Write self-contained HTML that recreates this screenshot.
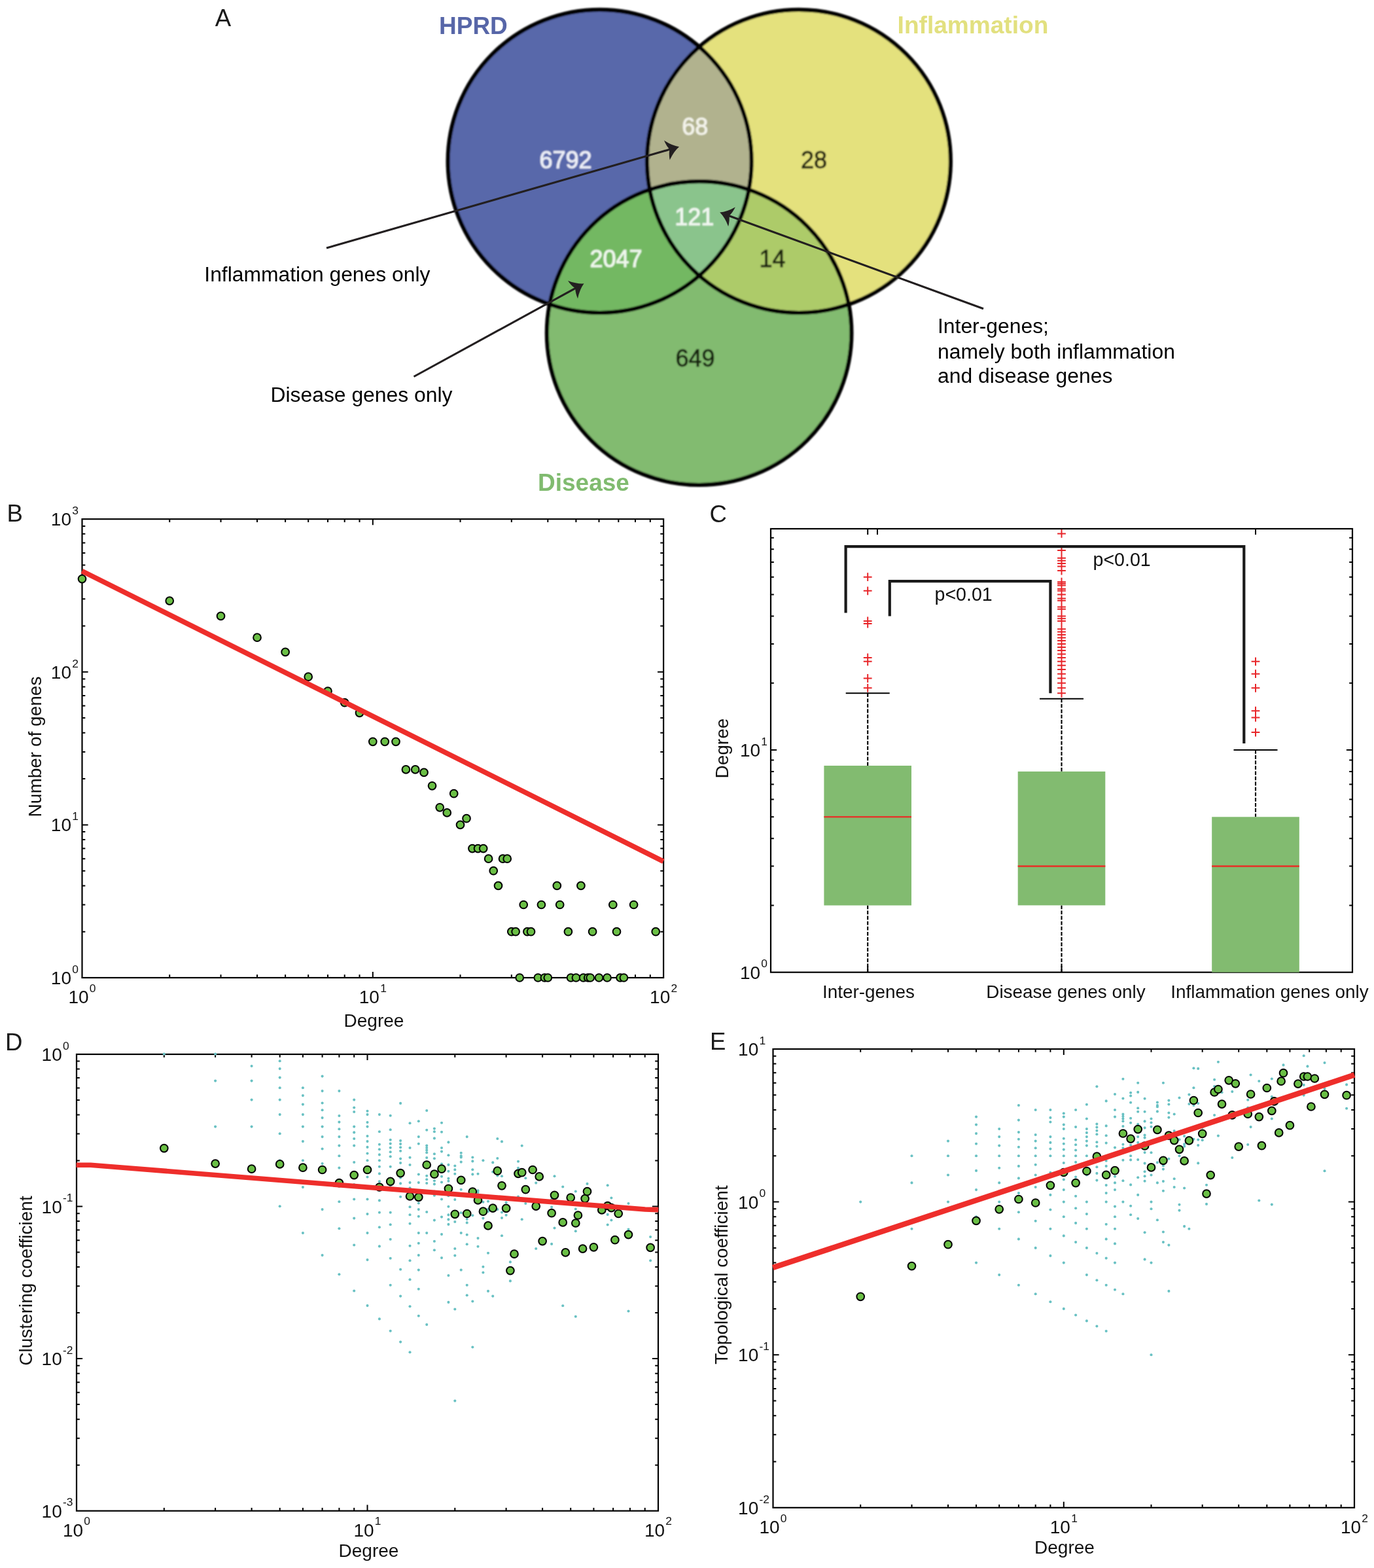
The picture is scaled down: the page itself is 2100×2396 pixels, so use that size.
<!DOCTYPE html>
<html lang="en"><head><meta charset="utf-8"><title>Inflammation and disease genes: overlap and network properties</title>
<style>html,body{margin:0;padding:0;background:#fff}body{width:2100px;height:2396px;overflow:hidden}svg{display:block}svg text{font-family:'Liberation Sans', Arial, Helvetica, sans-serif}</style>
</head><body>
<svg width="2100" height="2396" viewBox="0 0 2100 2396" role="img" aria-label="Five-panel figure: Venn diagram of HPRD, inflammation and disease genes; degree distribution; degree box plots; clustering and topological coefficients versus degree">
<rect width="2100" height="2396" fill="#fff"/>
<defs>
<clipPath id="cB"><ellipse cx="916.6" cy="246.4" rx="232" ry="231.6"/></clipPath>
<clipPath id="cY"><ellipse cx="1220.9" cy="246.4" rx="232" ry="231.6"/></clipPath>
<clipPath id="cG"><ellipse cx="1068.6" cy="509.1" rx="232.8" ry="231.9"/></clipPath>
<filter id="soft" x="-2%" y="-2%" width="104%" height="104%"><feGaussianBlur stdDeviation="1"/></filter>
</defs>
<g id="venn">
<g filter="url(#soft)">
<ellipse cx="916.6" cy="246.4" rx="232" ry="231.6" fill="#5868aa"/>
<ellipse cx="1220.9" cy="246.4" rx="232" ry="231.6" fill="#e4e17d"/>
<ellipse cx="1068.6" cy="509.1" rx="232.8" ry="231.9" fill="#82bb70"/>
<g clip-path="url(#cB)"><ellipse cx="1220.9" cy="246.4" rx="232" ry="231.6" fill="#b1b28e"/></g>
<g clip-path="url(#cB)"><ellipse cx="1068.6" cy="509.1" rx="232.8" ry="231.9" fill="#73b862"/></g>
<g clip-path="url(#cY)"><ellipse cx="1068.6" cy="509.1" rx="232.8" ry="231.9" fill="#adcb69"/></g>
<g clip-path="url(#cB)"><g clip-path="url(#cY)"><ellipse cx="1068.6" cy="509.1" rx="232.8" ry="231.9" fill="#8ac48c"/></g></g>
<ellipse cx="916.6" cy="246.4" rx="232" ry="231.6" fill="none" stroke="#050505" stroke-width="6.2"/>
<ellipse cx="1220.9" cy="246.4" rx="232" ry="231.6" fill="none" stroke="#050505" stroke-width="6.2"/>
<ellipse cx="1068.6" cy="509.1" rx="232.8" ry="231.9" fill="none" stroke="#050505" stroke-width="6.2"/>
<text x="864.5" y="256.5" font-size="36" text-anchor="middle" fill="#eef0f8" stroke="#eef0f8" stroke-width="0.9">6792</text>
<text x="1062.3" y="206.2" font-size="36" text-anchor="middle" fill="#f3f3ea" stroke="#f3f3ea" stroke-width="0.9">68</text>
<text x="1244" y="256.5" font-size="36" text-anchor="middle" fill="#23230f" stroke="#23230f" stroke-width="0.9">28</text>
<text x="1061.3" y="344" font-size="36" text-anchor="middle" fill="#f2f8f2" stroke="#f2f8f2" stroke-width="0.9">121</text>
<text x="941.5" y="408" font-size="36" text-anchor="middle" fill="#f0f8ee" stroke="#f0f8ee" stroke-width="0.9">2047</text>
<text x="1180.5" y="408" font-size="36" text-anchor="middle" fill="#1c2410" stroke="#1c2410" stroke-width="0.9">14</text>
<text x="1062.5" y="559.5" font-size="36" text-anchor="middle" fill="#15240f" stroke="#15240f" stroke-width="0.9">649</text>
</g>
<text x="671" y="51.6" font-size="37" font-weight="bold" fill="#5766a8">HPRD</text>
<text x="1371.6" y="51.3" font-size="37.1" font-weight="bold" fill="#e2e07f">Inflammation</text>
<text x="822" y="749.5" font-size="37" font-weight="bold" fill="#80bb6f">Disease</text>
<line x1="499" y1="379" x2="1024.4" y2="228.1" stroke="#231f20" stroke-width="3.1"/>
<path d="M1038 224.2Q1029.6 231.5 1023.7 244.5Q1022 235.6 1023.4 228.4Q1018.4 223 1015 214.6Q1027 222.5 1038 224.2Z" fill="#231f20"/>
<line x1="632.5" y1="575.5" x2="880" y2="440.1" stroke="#231f20" stroke-width="3.1"/>
<path d="M892.5 433.3Q885.9 442.2 883 456.3Q879.4 448 879.2 440.6Q873.1 436.5 868 428.9Q881.4 434 892.5 433.3Z" fill="#231f20"/>
<line x1="1503" y1="471.7" x2="1113.5" y2="329.5" stroke="#231f20" stroke-width="3.1"/>
<path d="M1100.2 324.6Q1111.3 323.7 1123.8 316.6Q1119.9 324.8 1114.5 329.8Q1115.4 337.1 1113.1 345.9Q1108.1 332.5 1100.2 324.6Z" fill="#231f20"/>
<text x="312.3" y="430.3" font-size="31.85" fill="#000">Inflammation genes only</text>
<text x="413.5" y="613.8" font-size="31.85" fill="#000">Disease genes only</text>
<text x="1433" y="508.6" font-size="31.85" fill="#000">Inter-genes;</text>
<text x="1433" y="547.5" font-size="31.85" fill="#000">namely both inflammation</text>
<text x="1433" y="585" font-size="31.85" fill="#000">and disease genes</text>
</g>
<text x="328.8" y="39.8" font-size="36.6" fill="#1a1a1a">A</text>
<g id="panelB">
<rect x="125.5" y="793.2" width="888.6" height="700.8" fill="none" stroke="#000" stroke-width="2.2"/>
<path d="M259.2 1494v-4.8M259.2 793.2v4.8M337.5 1494v-4.8M337.5 793.2v4.8M393 1494v-4.8M393 793.2v4.8M436.1 1494v-4.8M436.1 793.2v4.8M471.2 1494v-4.8M471.2 793.2v4.8M501 1494v-4.8M501 793.2v4.8M526.7 1494v-4.8M526.7 793.2v4.8M549.5 1494v-4.8M549.5 793.2v4.8M569.8 1494v-9.1M569.8 793.2v9.1M703.5 1494v-4.8M703.5 793.2v4.8M781.8 1494v-4.8M781.8 793.2v4.8M837.3 1494v-4.8M837.3 793.2v4.8M880.4 1494v-4.8M880.4 793.2v4.8M915.5 1494v-4.8M915.5 793.2v4.8M945.3 1494v-4.8M945.3 793.2v4.8M971 1494v-4.8M971 793.2v4.8M993.8 1494v-4.8M993.8 793.2v4.8" stroke="#000" stroke-width="2" fill="none"/>
<path d="M125.5 1423.7h4.8M1014.1 1423.7h-4.8M125.5 1382.5h4.8M1014.1 1382.5h-4.8M125.5 1353.4h4.8M1014.1 1353.4h-4.8M125.5 1330.7h4.8M1014.1 1330.7h-4.8M125.5 1312.2h4.8M1014.1 1312.2h-4.8M125.5 1296.6h4.8M1014.1 1296.6h-4.8M125.5 1283h4.8M1014.1 1283h-4.8M125.5 1271.1h4.8M1014.1 1271.1h-4.8M125.5 1260.4h9.1M1014.1 1260.4h-9.1M125.5 1190.1h4.8M1014.1 1190.1h-4.8M125.5 1148.9h4.8M1014.1 1148.9h-4.8M125.5 1119.8h4.8M1014.1 1119.8h-4.8M125.5 1097.1h4.8M1014.1 1097.1h-4.8M125.5 1078.6h4.8M1014.1 1078.6h-4.8M125.5 1063h4.8M1014.1 1063h-4.8M125.5 1049.4h4.8M1014.1 1049.4h-4.8M125.5 1037.5h4.8M1014.1 1037.5h-4.8M125.5 1026.8h9.1M1014.1 1026.8h-9.1M125.5 956.5h4.8M1014.1 956.5h-4.8M125.5 915.3h4.8M1014.1 915.3h-4.8M125.5 886.2h4.8M1014.1 886.2h-4.8M125.5 863.5h4.8M1014.1 863.5h-4.8M125.5 845h4.8M1014.1 845h-4.8M125.5 829.4h4.8M1014.1 829.4h-4.8M125.5 815.8h4.8M1014.1 815.8h-4.8M125.5 803.9h4.8M1014.1 803.9h-4.8" stroke="#000" stroke-width="2" fill="none"/>
<g fill="#6abf45" stroke="#000" stroke-width="2.0">
<circle cx="125.5" cy="884.6" r="5.85"/><circle cx="259.2" cy="918.1" r="5.85"/><circle cx="337.5" cy="941.4" r="5.85"/><circle cx="393" cy="974.2" r="5.85"/><circle cx="436.1" cy="996.4" r="5.85"/><circle cx="471.2" cy="1034.2" r="5.85"/><circle cx="501" cy="1056" r="5.85"/><circle cx="526.7" cy="1073.7" r="5.85"/><circle cx="549.5" cy="1089.3" r="5.85"/><circle cx="569.8" cy="1133.3" r="5.85"/><circle cx="588.2" cy="1133.3" r="5.85"/><circle cx="605" cy="1133.3" r="5.85"/><circle cx="620.4" cy="1175.9" r="5.85"/><circle cx="634.7" cy="1175.9" r="5.85"/><circle cx="648" cy="1180.4" r="5.85"/><circle cx="660.5" cy="1200.8" r="5.85"/><circle cx="672.2" cy="1233.8" r="5.85"/><circle cx="683.2" cy="1241.9" r="5.85"/><circle cx="693.7" cy="1212.7" r="5.85"/><circle cx="703.5" cy="1260.4" r="5.85"/><circle cx="713" cy="1250.7" r="5.85"/><circle cx="721.9" cy="1296.6" r="5.85"/><circle cx="730.5" cy="1296.6" r="5.85"/><circle cx="738.7" cy="1296.6" r="5.85"/><circle cx="746.6" cy="1312.2" r="5.85"/><circle cx="754.2" cy="1330.7" r="5.85"/><circle cx="761.5" cy="1353.4" r="5.85"/><circle cx="768.5" cy="1312.2" r="5.85"/><circle cx="775.2" cy="1312.2" r="5.85"/><circle cx="781.8" cy="1423.7" r="5.85"/><circle cx="788.1" cy="1423.7" r="5.85"/><circle cx="794.2" cy="1494" r="5.85"/><circle cx="800.2" cy="1382.5" r="5.85"/><circle cx="805.9" cy="1423.7" r="5.85"/><circle cx="811.5" cy="1423.7" r="5.85"/><circle cx="822.3" cy="1494" r="5.85"/><circle cx="827.4" cy="1382.5" r="5.85"/><circle cx="832.4" cy="1494" r="5.85"/><circle cx="837.3" cy="1494" r="5.85"/><circle cx="851.3" cy="1353.4" r="5.85"/><circle cx="855.7" cy="1382.5" r="5.85"/><circle cx="868.4" cy="1423.7" r="5.85"/><circle cx="872.5" cy="1494" r="5.85"/><circle cx="880.4" cy="1494" r="5.85"/><circle cx="887.9" cy="1353.4" r="5.85"/><circle cx="891.6" cy="1494" r="5.85"/><circle cx="898.7" cy="1494" r="5.85"/><circle cx="902.2" cy="1494" r="5.85"/><circle cx="905.6" cy="1423.7" r="5.85"/><circle cx="915.5" cy="1494" r="5.85"/><circle cx="928" cy="1494" r="5.85"/><circle cx="936.8" cy="1382.5" r="5.85"/><circle cx="942.5" cy="1423.7" r="5.85"/><circle cx="948" cy="1494" r="5.85"/><circle cx="953.4" cy="1494" r="5.85"/><circle cx="968.6" cy="1382.5" r="5.85"/><circle cx="1002.2" cy="1423.7" r="5.85"/>
</g>
<line x1="125.3" y1="872.6" x2="1013.8" y2="1316.2" stroke="#ee2e2b" stroke-width="7.7"/>
<text x="119.9" y="1504" font-size="28.0" text-anchor="end" fill="#111">10<tspan dy="-17.3" dx="1.2" font-size="17.4">0</tspan></text>
<text x="119.9" y="1270.4" font-size="28.0" text-anchor="end" fill="#111">10<tspan dy="-17.3" dx="1.2" font-size="17.4">1</tspan></text>
<text x="119.9" y="1036.8" font-size="28.0" text-anchor="end" fill="#111">10<tspan dy="-17.3" dx="1.2" font-size="17.4">2</tspan></text>
<text x="119.9" y="803.2" font-size="28.0" text-anchor="end" fill="#111">10<tspan dy="-17.3" dx="1.2" font-size="17.4">3</tspan></text>
<text x="125.5" y="1533" font-size="28.0" text-anchor="middle" fill="#111">10<tspan dy="-17.3" dx="1.2" font-size="17.4">0</tspan></text>
<text x="569.8" y="1533" font-size="28.0" text-anchor="middle" fill="#111">10<tspan dy="-17.3" dx="1.2" font-size="17.4">1</tspan></text>
<text x="1014.1" y="1533" font-size="28.0" text-anchor="middle" fill="#111">10<tspan dy="-17.3" dx="1.2" font-size="17.4">2</tspan></text>
<text x="571.5" y="1568.6" font-size="28.0" text-anchor="middle" fill="#111">Degree</text>
<text transform="translate(62.6 1141) rotate(-90)" font-size="28.0" text-anchor="middle" fill="#111">Number of genes</text>
<text x="10.5" y="797.4" font-size="36.6" fill="#1a1a1a">B</text>
</g>
<g id="panelC">
<rect x="1178" y="808" width="889" height="677.7" fill="none" stroke="#000" stroke-width="2.2"/>
<path d="M1178 1146h9.1M2067 1146h-9.1M1178 1383.4h4.8M2067 1383.4h-4.8M1178 1043.7h4.8M2067 1043.7h-4.8M1178 1323.6h4.8M2067 1323.6h-4.8M1178 983.9h4.8M2067 983.9h-4.8M1178 1281.2h4.8M2067 1281.2h-4.8M1178 941.5h4.8M2067 941.5h-4.8M1178 1248.3h4.8M2067 1248.3h-4.8M1178 908.6h4.8M2067 908.6h-4.8M1178 1221.4h4.8M2067 1221.4h-4.8M1178 881.7h4.8M2067 881.7h-4.8M1178 1198.6h4.8M2067 1198.6h-4.8M1178 858.9h4.8M2067 858.9h-4.8M1178 1178.9h4.8M2067 1178.9h-4.8M1178 839.2h4.8M2067 839.2h-4.8M1178 1161.5h4.8M2067 1161.5h-4.8M1178 821.8h4.8M2067 821.8h-4.8M1326.2 1485.7v-9.1M1326.2 808v9.1M1622.5 1485.7v-9.1M1919 808v9.1M1341 808v9.1" stroke="#000" stroke-width="2" fill="none"/>
<line x1="1326.2" y1="1059.3" x2="1326.2" y2="1170" stroke="#000" stroke-width="2.1" stroke-dasharray="5.8 2.3"/>
<line x1="1326.2" y1="1383.4" x2="1326.2" y2="1485.7" stroke="#000" stroke-width="2.1" stroke-dasharray="5.8 2.3"/>
<line x1="1292.7" y1="1059.3" x2="1359.7" y2="1059.3" stroke="#000" stroke-width="2"/>
<rect x="1259.4" y="1170" width="133.6" height="213.5" fill="#82bb70"/>
<line x1="1259.4" y1="1248.3" x2="1393" y2="1248.3" stroke="#e03a2c" stroke-width="2.6"/>
<line x1="1622.5" y1="1067.7" x2="1622.5" y2="1178.9" stroke="#000" stroke-width="2.1" stroke-dasharray="5.8 2.3"/>
<line x1="1622.5" y1="1383.4" x2="1622.5" y2="1485.7" stroke="#000" stroke-width="2.1" stroke-dasharray="5.8 2.3"/>
<line x1="1589" y1="1067.7" x2="1656" y2="1067.7" stroke="#000" stroke-width="2"/>
<rect x="1555.7" y="1178.9" width="133.6" height="204.5" fill="#82bb70"/>
<line x1="1555.7" y1="1323.6" x2="1689.3" y2="1323.6" stroke="#e03a2c" stroke-width="2.6"/>
<line x1="1919" y1="1146" x2="1919" y2="1248.3" stroke="#000" stroke-width="2.1" stroke-dasharray="5.8 2.3"/>
<line x1="1885.5" y1="1146" x2="1952.5" y2="1146" stroke="#000" stroke-width="2"/>
<rect x="1852.2" y="1248.3" width="133.6" height="237.4" fill="#82bb70"/>
<line x1="1852.2" y1="1323.6" x2="1985.8" y2="1323.6" stroke="#e03a2c" stroke-width="2.6"/>
<path d="M1319.8 1051.3h12.8M1326.2 1044.9v12.8M1319.8 1036.5h12.8M1326.2 1030.1v12.8M1319.8 1010.8h12.8M1326.2 1004.4v12.8M1319.8 1005h12.8M1326.2 998.6v12.8M1319.8 953h12.8M1326.2 946.6v12.8M1319.8 949h12.8M1326.2 942.6v12.8M1319.8 902.8h12.8M1326.2 896.4v12.8M1319.8 881.7h12.8M1326.2 875.3v12.8M1616.1 1059.3h12.8M1622.5 1052.9v12.8M1616.1 1051.3h12.8M1622.5 1044.9v12.8M1616.1 1043.7h12.8M1622.5 1037.3v12.8M1616.1 1036.5h12.8M1622.5 1030.1v12.8M1616.1 1029.7h12.8M1622.5 1023.3v12.8M1616.1 1023.1h12.8M1622.5 1016.7v12.8M1616.1 1016.8h12.8M1622.5 1010.4v12.8M1616.1 1010.8h12.8M1622.5 1004.4v12.8M1616.1 1005h12.8M1622.5 998.6v12.8M1616.1 999.5h12.8M1622.5 993.1v12.8M1616.1 994.1h12.8M1622.5 987.7v12.8M1616.1 988.9h12.8M1622.5 982.5v12.8M1616.1 983.9h12.8M1622.5 977.5v12.8M1616.1 979.1h12.8M1622.5 972.7v12.8M1616.1 974.4h12.8M1622.5 968v12.8M1616.1 969.9h12.8M1622.5 963.5v12.8M1616.1 965.5h12.8M1622.5 959.1v12.8M1616.1 961.2h12.8M1622.5 954.8v12.8M1616.1 949h12.8M1622.5 942.6v12.8M1616.1 945.2h12.8M1622.5 938.8v12.8M1616.1 941.5h12.8M1622.5 935.1v12.8M1616.1 930.8h12.8M1622.5 924.4v12.8M1616.1 927.4h12.8M1622.5 921v12.8M1616.1 917.7h12.8M1622.5 911.3v12.8M1616.1 914.6h12.8M1622.5 908.2v12.8M1616.1 908.6h12.8M1622.5 902.2v12.8M1616.1 902.8h12.8M1622.5 896.4v12.8M1616.1 900h12.8M1622.5 893.6v12.8M1616.1 894.5h12.8M1622.5 888.1v12.8M1616.1 891.8h12.8M1622.5 885.4v12.8M1616.1 889.2h12.8M1622.5 882.8v12.8M1616.1 872.1h12.8M1622.5 865.7v12.8M1616.1 865.4h12.8M1622.5 859v12.8M1616.1 861h12.8M1622.5 854.6v12.8M1616.1 856.8h12.8M1622.5 850.4v12.8M1616.1 852.7h12.8M1622.5 846.3v12.8M1616.1 841.1h12.8M1622.5 834.7v12.8M1616.1 815.4h12.8M1622.5 809v12.8M1912.6 1119.1h12.8M1919 1112.7v12.8M1912.6 1096.4h12.8M1919 1090v12.8M1912.6 1086.2h12.8M1919 1079.8v12.8M1912.6 1051.3h12.8M1919 1044.9v12.8M1912.6 1029.7h12.8M1919 1023.3v12.8M1912.6 1010.8h12.8M1919 1004.4v12.8" stroke="#e8262a" stroke-width="2" fill="none"/>
<path d="M1292.6 936.5V835.2H1901.3V1136" fill="none" stroke="#1a1a1a" stroke-width="4.2"/>
<path d="M1359.8 941.5V888.2H1605.4V1059.3" fill="none" stroke="#1a1a1a" stroke-width="4.2"/>
<text x="1428.5" y="917.8" font-size="28.6" text-anchor="start" fill="#111">p&lt;0.01</text>
<text x="1670.5" y="864.5" font-size="28.6" text-anchor="start" fill="#111">p&lt;0.01</text>
<text x="1173" y="1156" font-size="28.0" text-anchor="end" fill="#111">10<tspan dy="-17.3" dx="1.2" font-size="17.4">1</tspan></text>
<text x="1173" y="1495.7" font-size="28.0" text-anchor="end" fill="#111">10<tspan dy="-17.3" dx="1.2" font-size="17.4">0</tspan></text>
<text x="1327.5" y="1525.4" font-size="27.9" text-anchor="middle" fill="#111">Inter-genes</text>
<text x="1629" y="1525.4" font-size="27.9" text-anchor="middle" fill="#111">Disease genes only</text>
<text x="1940.5" y="1525.4" font-size="27.9" text-anchor="middle" fill="#111">Inflammation genes only</text>
<text transform="translate(1112.8 1143.6) rotate(-90)" font-size="28.0" text-anchor="middle" fill="#111">Degree</text>
<text x="1084.5" y="797.6" font-size="36.6" fill="#1a1a1a">C</text>
</g>
<g id="panelD">
<rect x="117" y="1611" width="889" height="697.7" fill="none" stroke="#000" stroke-width="2.2"/>
<path d="M250.8 2308.7v-4.8M250.8 1611v4.8M329.1 2308.7v-4.8M329.1 1611v4.8M384.6 2308.7v-4.8M384.6 1611v4.8M427.7 2308.7v-4.8M427.7 1611v4.8M462.9 2308.7v-4.8M462.9 1611v4.8M492.6 2308.7v-4.8M492.6 1611v4.8M518.4 2308.7v-4.8M518.4 1611v4.8M541.2 2308.7v-4.8M541.2 1611v4.8M561.5 2308.7v-9.1M561.5 1611v9.1M695.3 2308.7v-4.8M695.3 1611v4.8M773.6 2308.7v-4.8M773.6 1611v4.8M829.1 2308.7v-4.8M829.1 1611v4.8M872.2 2308.7v-4.8M872.2 1611v4.8M907.4 2308.7v-4.8M907.4 1611v4.8M937.1 2308.7v-4.8M937.1 1611v4.8M962.9 2308.7v-4.8M962.9 1611v4.8M985.7 2308.7v-4.8M985.7 1611v4.8" stroke="#000" stroke-width="2" fill="none"/>
<path d="M117 2238.7h4.8M1006 2238.7h-4.8M117 2197.7h4.8M1006 2197.7h-4.8M117 2168.7h4.8M1006 2168.7h-4.8M117 2146.1h4.8M1006 2146.1h-4.8M117 2127.7h4.8M1006 2127.7h-4.8M117 2112.2h4.8M1006 2112.2h-4.8M117 2098.7h4.8M1006 2098.7h-4.8M117 2086.8h4.8M1006 2086.8h-4.8M117 2076.1h9.1M1006 2076.1h-9.1M117 2006.1h4.8M1006 2006.1h-4.8M117 1965.2h4.8M1006 1965.2h-4.8M117 1936.1h4.8M1006 1936.1h-4.8M117 1913.6h4.8M1006 1913.6h-4.8M117 1895.2h4.8M1006 1895.2h-4.8M117 1879.6h4.8M1006 1879.6h-4.8M117 1866.1h4.8M1006 1866.1h-4.8M117 1854.2h4.8M1006 1854.2h-4.8M117 1843.6h9.1M1006 1843.6h-9.1M117 1773.6h4.8M1006 1773.6h-4.8M117 1732.6h4.8M1006 1732.6h-4.8M117 1703.5h4.8M1006 1703.5h-4.8M117 1681h4.8M1006 1681h-4.8M117 1662.6h4.8M1006 1662.6h-4.8M117 1647h4.8M1006 1647h-4.8M117 1633.5h4.8M1006 1633.5h-4.8M117 1621.6h4.8M1006 1621.6h-4.8" stroke="#000" stroke-width="2" fill="none"/>
<g fill="#69c1c3">
<circle cx="250.8" cy="1610.6" r="2.05"/><circle cx="329.1" cy="1721.6" r="2.05"/><circle cx="329.1" cy="1651.6" r="2.05"/><circle cx="329.1" cy="1610.6" r="2.05"/><circle cx="384.6" cy="1721.6" r="2.05"/><circle cx="384.6" cy="1680.6" r="2.05"/><circle cx="384.6" cy="1651.6" r="2.05"/><circle cx="384.6" cy="1629" r="2.05"/><circle cx="427.7" cy="1843.2" r="2.05"/><circle cx="427.7" cy="1773.2" r="2.05"/><circle cx="427.7" cy="1732.2" r="2.05"/><circle cx="427.7" cy="1703.1" r="2.05"/><circle cx="427.7" cy="1680.6" r="2.05"/><circle cx="427.7" cy="1662.2" r="2.05"/><circle cx="427.7" cy="1646.6" r="2.05"/><circle cx="427.7" cy="1633.1" r="2.05"/><circle cx="427.7" cy="1621.2" r="2.05"/><circle cx="462.9" cy="1884.1" r="2.05"/><circle cx="462.9" cy="1814.1" r="2.05"/><circle cx="462.9" cy="1773.2" r="2.05"/><circle cx="462.9" cy="1744.1" r="2.05"/><circle cx="462.9" cy="1721.6" r="2.05"/><circle cx="462.9" cy="1703.1" r="2.05"/><circle cx="462.9" cy="1687.6" r="2.05"/><circle cx="462.9" cy="1674.1" r="2.05"/><circle cx="462.9" cy="1662.2" r="2.05"/><circle cx="492.6" cy="1918.1" r="2.05"/><circle cx="492.6" cy="1848.1" r="2.05"/><circle cx="492.6" cy="1807.1" r="2.05"/><circle cx="492.6" cy="1778.1" r="2.05"/><circle cx="492.6" cy="1755.5" r="2.05"/><circle cx="492.6" cy="1737.1" r="2.05"/><circle cx="492.6" cy="1721.6" r="2.05"/><circle cx="492.6" cy="1708.1" r="2.05"/><circle cx="492.6" cy="1696.2" r="2.05"/><circle cx="492.6" cy="1685.5" r="2.05"/><circle cx="492.6" cy="1667.1" r="2.05"/><circle cx="492.6" cy="1644.6" r="2.05"/><circle cx="518.4" cy="1947.2" r="2.05"/><circle cx="518.4" cy="1877.2" r="2.05"/><circle cx="518.4" cy="1836.2" r="2.05"/><circle cx="518.4" cy="1807.1" r="2.05"/><circle cx="518.4" cy="1784.6" r="2.05"/><circle cx="518.4" cy="1766.2" r="2.05"/><circle cx="518.4" cy="1750.6" r="2.05"/><circle cx="518.4" cy="1737.1" r="2.05"/><circle cx="518.4" cy="1725.2" r="2.05"/><circle cx="518.4" cy="1714.6" r="2.05"/><circle cx="518.4" cy="1705" r="2.05"/><circle cx="518.4" cy="1667.1" r="2.05"/><circle cx="541.2" cy="1972.5" r="2.05"/><circle cx="541.2" cy="1902.5" r="2.05"/><circle cx="541.2" cy="1861.6" r="2.05"/><circle cx="541.2" cy="1832.5" r="2.05"/><circle cx="541.2" cy="1810" r="2.05"/><circle cx="541.2" cy="1791.6" r="2.05"/><circle cx="541.2" cy="1776" r="2.05"/><circle cx="541.2" cy="1750.6" r="2.05"/><circle cx="541.2" cy="1740" r="2.05"/><circle cx="541.2" cy="1730.4" r="2.05"/><circle cx="541.2" cy="1721.6" r="2.05"/><circle cx="541.2" cy="1699" r="2.05"/><circle cx="541.2" cy="1692.5" r="2.05"/><circle cx="541.2" cy="1680.6" r="2.05"/><circle cx="561.5" cy="1995.1" r="2.05"/><circle cx="561.5" cy="1925.1" r="2.05"/><circle cx="561.5" cy="1884.1" r="2.05"/><circle cx="561.5" cy="1855.1" r="2.05"/><circle cx="561.5" cy="1832.5" r="2.05"/><circle cx="561.5" cy="1814.1" r="2.05"/><circle cx="561.5" cy="1798.5" r="2.05"/><circle cx="561.5" cy="1785.1" r="2.05"/><circle cx="561.5" cy="1773.2" r="2.05"/><circle cx="561.5" cy="1762.5" r="2.05"/><circle cx="561.5" cy="1752.9" r="2.05"/><circle cx="561.5" cy="1744.1" r="2.05"/><circle cx="561.5" cy="1736" r="2.05"/><circle cx="561.5" cy="1721.6" r="2.05"/><circle cx="561.5" cy="1715" r="2.05"/><circle cx="561.5" cy="1703.1" r="2.05"/><circle cx="561.5" cy="1697.7" r="2.05"/><circle cx="579.9" cy="2015.4" r="2.05"/><circle cx="579.9" cy="1904.4" r="2.05"/><circle cx="579.9" cy="1875.3" r="2.05"/><circle cx="579.9" cy="1852.8" r="2.05"/><circle cx="579.9" cy="1834.4" r="2.05"/><circle cx="579.9" cy="1818.8" r="2.05"/><circle cx="579.9" cy="1805.3" r="2.05"/><circle cx="579.9" cy="1793.4" r="2.05"/><circle cx="579.9" cy="1782.8" r="2.05"/><circle cx="579.9" cy="1773.2" r="2.05"/><circle cx="579.9" cy="1764.4" r="2.05"/><circle cx="579.9" cy="1756.3" r="2.05"/><circle cx="579.9" cy="1748.8" r="2.05"/><circle cx="579.9" cy="1729.2" r="2.05"/><circle cx="579.9" cy="1703.1" r="2.05"/><circle cx="596.7" cy="2033.8" r="2.05"/><circle cx="596.7" cy="1963.8" r="2.05"/><circle cx="596.7" cy="1922.8" r="2.05"/><circle cx="596.7" cy="1893.8" r="2.05"/><circle cx="596.7" cy="1871.2" r="2.05"/><circle cx="596.7" cy="1852.8" r="2.05"/><circle cx="596.7" cy="1811.8" r="2.05"/><circle cx="596.7" cy="1782.8" r="2.05"/><circle cx="596.7" cy="1767.2" r="2.05"/><circle cx="596.7" cy="1760.2" r="2.05"/><circle cx="596.7" cy="1753.7" r="2.05"/><circle cx="596.7" cy="1747.6" r="2.05"/><circle cx="596.7" cy="1741.8" r="2.05"/><circle cx="596.7" cy="1726.3" r="2.05"/><circle cx="596.7" cy="1704.7" r="2.05"/><circle cx="612.1" cy="2050.6" r="2.05"/><circle cx="612.1" cy="1980.6" r="2.05"/><circle cx="612.1" cy="1939.7" r="2.05"/><circle cx="612.1" cy="1828.7" r="2.05"/><circle cx="612.1" cy="1818.1" r="2.05"/><circle cx="612.1" cy="1808.4" r="2.05"/><circle cx="612.1" cy="1799.7" r="2.05"/><circle cx="612.1" cy="1777.1" r="2.05"/><circle cx="612.1" cy="1770.6" r="2.05"/><circle cx="612.1" cy="1758.7" r="2.05"/><circle cx="612.1" cy="1753.2" r="2.05"/><circle cx="612.1" cy="1748.1" r="2.05"/><circle cx="612.1" cy="1743.1" r="2.05"/><circle cx="612.1" cy="1685.9" r="2.05"/><circle cx="626.5" cy="2066.2" r="2.05"/><circle cx="626.5" cy="1996.2" r="2.05"/><circle cx="626.5" cy="1955.3" r="2.05"/><circle cx="626.5" cy="1926.2" r="2.05"/><circle cx="626.5" cy="1903.7" r="2.05"/><circle cx="626.5" cy="1869.7" r="2.05"/><circle cx="626.5" cy="1856.2" r="2.05"/><circle cx="626.5" cy="1844.3" r="2.05"/><circle cx="626.5" cy="1815.2" r="2.05"/><circle cx="626.5" cy="1807.1" r="2.05"/><circle cx="626.5" cy="1780" r="2.05"/><circle cx="626.5" cy="1768.8" r="2.05"/><circle cx="626.5" cy="1754" r="2.05"/><circle cx="626.5" cy="1716.2" r="2.05"/><circle cx="639.8" cy="2010.7" r="2.05"/><circle cx="639.8" cy="1969.7" r="2.05"/><circle cx="639.8" cy="1940.6" r="2.05"/><circle cx="639.8" cy="1918.1" r="2.05"/><circle cx="639.8" cy="1899.7" r="2.05"/><circle cx="639.8" cy="1884.1" r="2.05"/><circle cx="639.8" cy="1858.7" r="2.05"/><circle cx="639.8" cy="1848.1" r="2.05"/><circle cx="639.8" cy="1838.5" r="2.05"/><circle cx="639.8" cy="1807.1" r="2.05"/><circle cx="639.8" cy="1794.5" r="2.05"/><circle cx="639.8" cy="1747.8" r="2.05"/><circle cx="639.8" cy="1737.1" r="2.05"/><circle cx="639.8" cy="1713.3" r="2.05"/><circle cx="652.2" cy="2024.1" r="2.05"/><circle cx="652.2" cy="1884.1" r="2.05"/><circle cx="652.2" cy="1852" r="2.05"/><circle cx="652.2" cy="1820.6" r="2.05"/><circle cx="652.2" cy="1808" r="2.05"/><circle cx="652.2" cy="1802.2" r="2.05"/><circle cx="652.2" cy="1796.8" r="2.05"/><circle cx="652.2" cy="1769" r="2.05"/><circle cx="652.2" cy="1761.3" r="2.05"/><circle cx="652.2" cy="1757.6" r="2.05"/><circle cx="652.2" cy="1754" r="2.05"/><circle cx="652.2" cy="1750.6" r="2.05"/><circle cx="652.2" cy="1726.7" r="2.05"/><circle cx="652.2" cy="1697" r="2.05"/><circle cx="663.9" cy="1910.3" r="2.05"/><circle cx="663.9" cy="1896.8" r="2.05"/><circle cx="663.9" cy="1864.6" r="2.05"/><circle cx="663.9" cy="1826.8" r="2.05"/><circle cx="663.9" cy="1820.6" r="2.05"/><circle cx="663.9" cy="1809.4" r="2.05"/><circle cx="663.9" cy="1804.2" r="2.05"/><circle cx="663.9" cy="1770.2" r="2.05"/><circle cx="663.9" cy="1763.3" r="2.05"/><circle cx="663.9" cy="1739.4" r="2.05"/><circle cx="663.9" cy="1729.3" r="2.05"/><circle cx="663.9" cy="1724.6" r="2.05"/><circle cx="675" cy="1922.1" r="2.05"/><circle cx="675" cy="1886.1" r="2.05"/><circle cx="675" cy="1859.6" r="2.05"/><circle cx="675" cy="1832.5" r="2.05"/><circle cx="675" cy="1806.5" r="2.05"/><circle cx="675" cy="1797.7" r="2.05"/><circle cx="675" cy="1778.6" r="2.05"/><circle cx="675" cy="1759.6" r="2.05"/><circle cx="675" cy="1754" r="2.05"/><circle cx="675" cy="1729.8" r="2.05"/><circle cx="675" cy="1715.8" r="2.05"/><circle cx="685.4" cy="1989.9" r="2.05"/><circle cx="685.4" cy="1949" r="2.05"/><circle cx="685.4" cy="1870.9" r="2.05"/><circle cx="685.4" cy="1863.4" r="2.05"/><circle cx="685.4" cy="1856.4" r="2.05"/><circle cx="685.4" cy="1843.8" r="2.05"/><circle cx="685.4" cy="1827.3" r="2.05"/><circle cx="685.4" cy="1804.8" r="2.05"/><circle cx="685.4" cy="1800.8" r="2.05"/><circle cx="685.4" cy="1789.8" r="2.05"/><circle cx="685.4" cy="1779.9" r="2.05"/><circle cx="685.4" cy="1765.2" r="2.05"/><circle cx="685.4" cy="1745.4" r="2.05"/><circle cx="695.3" cy="2140.6" r="2.05"/><circle cx="695.3" cy="2000.5" r="2.05"/><circle cx="695.3" cy="1918.6" r="2.05"/><circle cx="695.3" cy="1908" r="2.05"/><circle cx="695.3" cy="1867" r="2.05"/><circle cx="695.3" cy="1833.1" r="2.05"/><circle cx="695.3" cy="1793.7" r="2.05"/><circle cx="695.3" cy="1787.4" r="2.05"/><circle cx="695.3" cy="1781.5" r="2.05"/><circle cx="704.7" cy="1940.6" r="2.05"/><circle cx="704.7" cy="1884.1" r="2.05"/><circle cx="704.7" cy="1853.3" r="2.05"/><circle cx="704.7" cy="1817.8" r="2.05"/><circle cx="704.7" cy="1775.6" r="2.05"/><circle cx="704.7" cy="1768.5" r="2.05"/><circle cx="704.7" cy="1766.2" r="2.05"/><circle cx="704.7" cy="1761.8" r="2.05"/><circle cx="713.7" cy="1979.3" r="2.05"/><circle cx="713.7" cy="1963.8" r="2.05"/><circle cx="713.7" cy="1901.2" r="2.05"/><circle cx="713.7" cy="1886.8" r="2.05"/><circle cx="713.7" cy="1868.4" r="2.05"/><circle cx="713.7" cy="1862.9" r="2.05"/><circle cx="713.7" cy="1737.1" r="2.05"/><circle cx="722.3" cy="2058.5" r="2.05"/><circle cx="722.3" cy="1988.5" r="2.05"/><circle cx="722.3" cy="1857.3" r="2.05"/><circle cx="722.3" cy="1794.4" r="2.05"/><circle cx="722.3" cy="1787.3" r="2.05"/><circle cx="722.3" cy="1774.4" r="2.05"/><circle cx="722.3" cy="1768.5" r="2.05"/><circle cx="730.5" cy="1904.8" r="2.05"/><circle cx="730.5" cy="1892.1" r="2.05"/><circle cx="730.5" cy="1822.1" r="2.05"/><circle cx="730.5" cy="1819.2" r="2.05"/><circle cx="730.5" cy="1793.8" r="2.05"/><circle cx="738.4" cy="1944.5" r="2.05"/><circle cx="738.4" cy="1935.7" r="2.05"/><circle cx="738.4" cy="1861.6" r="2.05"/><circle cx="738.4" cy="1836.7" r="2.05"/><circle cx="738.4" cy="1773.2" r="2.05"/><circle cx="746" cy="1972.9" r="2.05"/><circle cx="746" cy="1914.7" r="2.05"/><circle cx="746" cy="1851.3" r="2.05"/><circle cx="746" cy="1847.9" r="2.05"/><circle cx="746" cy="1835.7" r="2.05"/><circle cx="753.2" cy="1980.6" r="2.05"/><circle cx="753.2" cy="1790.7" r="2.05"/><circle cx="753.2" cy="1776.4" r="2.05"/><circle cx="760.3" cy="1848.1" r="2.05"/><circle cx="760.3" cy="1796.5" r="2.05"/><circle cx="760.3" cy="1770" r="2.05"/><circle cx="760.3" cy="1740" r="2.05"/><circle cx="767" cy="1888.2" r="2.05"/><circle cx="767" cy="1861.1" r="2.05"/><circle cx="767" cy="1852.5" r="2.05"/><circle cx="767" cy="1797.2" r="2.05"/><circle cx="767" cy="1744.4" r="2.05"/><circle cx="773.6" cy="1856.8" r="2.05"/><circle cx="773.6" cy="1837.5" r="2.05"/><circle cx="779.9" cy="1957.4" r="2.05"/><circle cx="779.9" cy="1928.4" r="2.05"/><circle cx="792" cy="1828.6" r="2.05"/><circle cx="792" cy="1784.9" r="2.05"/><circle cx="792" cy="1774.7" r="2.05"/><circle cx="797.7" cy="1863.2" r="2.05"/><circle cx="797.7" cy="1750.8" r="2.05"/><circle cx="803.3" cy="1839" r="2.05"/><circle cx="803.3" cy="1800.3" r="2.05"/><circle cx="819.2" cy="1908" r="2.05"/><circle cx="819.2" cy="1807.6" r="2.05"/><circle cx="843.1" cy="1900.9" r="2.05"/><circle cx="843.1" cy="1844.6" r="2.05"/><circle cx="843.1" cy="1832.9" r="2.05"/><circle cx="847.5" cy="1876.5" r="2.05"/><circle cx="847.5" cy="1797.3" r="2.05"/><circle cx="860.2" cy="1995.2" r="2.05"/><circle cx="860.2" cy="1813.5" r="2.05"/><circle cx="879.8" cy="2011.7" r="2.05"/><circle cx="879.8" cy="1881.2" r="2.05"/><circle cx="879.8" cy="1847.5" r="2.05"/><circle cx="879.8" cy="1820.5" r="2.05"/><circle cx="897.5" cy="1808.9" r="2.05"/><circle cx="928.7" cy="1871.5" r="2.05"/><circle cx="928.7" cy="1855.9" r="2.05"/><circle cx="928.7" cy="1811.3" r="2.05"/><circle cx="934.4" cy="1864.5" r="2.05"/><circle cx="934.4" cy="1830.5" r="2.05"/><circle cx="960.5" cy="2003.5" r="2.05"/><circle cx="960.5" cy="1878.6" r="2.05"/><circle cx="960.5" cy="1839" r="2.05"/><circle cx="994.1" cy="1926.3" r="2.05"/><circle cx="994.1" cy="1890" r="2.05"/>
</g>
<g fill="#6abf45" stroke="#000" stroke-width="2.0">
<circle cx="250.8" cy="1754.6" r="5.85"/><circle cx="329.1" cy="1778.1" r="5.85"/><circle cx="384.6" cy="1786.2" r="5.85"/><circle cx="427.7" cy="1778.9" r="5.85"/><circle cx="462.9" cy="1784.2" r="5.85"/><circle cx="492.6" cy="1787.5" r="5.85"/><circle cx="518.4" cy="1807.6" r="5.85"/><circle cx="541.2" cy="1795.6" r="5.85"/><circle cx="561.5" cy="1787.5" r="5.85"/><circle cx="579.9" cy="1814" r="5.85"/><circle cx="596.7" cy="1805.4" r="5.85"/><circle cx="612.1" cy="1792.6" r="5.85"/><circle cx="626.5" cy="1828" r="5.85"/><circle cx="639.8" cy="1829.4" r="5.85"/><circle cx="652.2" cy="1780" r="5.85"/><circle cx="663.9" cy="1794.2" r="5.85"/><circle cx="675" cy="1786.2" r="5.85"/><circle cx="685.4" cy="1816.3" r="5.85"/><circle cx="695.3" cy="1855.3" r="5.85"/><circle cx="704.7" cy="1803.4" r="5.85"/><circle cx="713.7" cy="1854.5" r="5.85"/><circle cx="722.3" cy="1821" r="5.85"/><circle cx="730.5" cy="1833.9" r="5.85"/><circle cx="738.4" cy="1851.2" r="5.85"/><circle cx="746" cy="1872.9" r="5.85"/><circle cx="753.2" cy="1846.1" r="5.85"/><circle cx="760.3" cy="1789.2" r="5.85"/><circle cx="767" cy="1811.8" r="5.85"/><circle cx="773.6" cy="1846.4" r="5.85"/><circle cx="779.9" cy="1941.6" r="5.85"/><circle cx="786" cy="1916.2" r="5.85"/><circle cx="792" cy="1793.4" r="5.85"/><circle cx="797.7" cy="1791.7" r="5.85"/><circle cx="803.3" cy="1817.7" r="5.85"/><circle cx="814.1" cy="1787.5" r="5.85"/><circle cx="819.2" cy="1843.1" r="5.85"/><circle cx="824.2" cy="1797.9" r="5.85"/><circle cx="829.1" cy="1896.6" r="5.85"/><circle cx="843.1" cy="1853.7" r="5.85"/><circle cx="847.5" cy="1826.3" r="5.85"/><circle cx="860.2" cy="1867.9" r="5.85"/><circle cx="864.3" cy="1913.9" r="5.85"/><circle cx="872.2" cy="1830" r="5.85"/><circle cx="879.8" cy="1869" r="5.85"/><circle cx="883.4" cy="1857" r="5.85"/><circle cx="890.6" cy="1908.1" r="5.85"/><circle cx="894.1" cy="1831.6" r="5.85"/><circle cx="897.5" cy="1820.7" r="5.85"/><circle cx="907.4" cy="1905.8" r="5.85"/><circle cx="919.8" cy="1848.9" r="5.85"/><circle cx="928.7" cy="1842.5" r="5.85"/><circle cx="934.4" cy="1845.6" r="5.85"/><circle cx="939.9" cy="1894.7" r="5.85"/><circle cx="945.2" cy="1854.5" r="5.85"/><circle cx="960.5" cy="1886.6" r="5.85"/><circle cx="994.1" cy="1906.4" r="5.85"/>
</g>
<path d="M116.6 1780.2L138.5 1780.3L986 1848L1006.2 1848.6" fill="none" stroke="#ee2e2b" stroke-width="7.6" stroke-linejoin="round"/>
<text x="63.6" y="2318.7" font-size="28.0" text-anchor="start" fill="#111">10<tspan dy="-17.3" dx="1.2" font-size="17.4">-3</tspan></text>
<text x="63.6" y="2086.1" font-size="28.0" text-anchor="start" fill="#111">10<tspan dy="-17.3" dx="1.2" font-size="17.4">-2</tspan></text>
<text x="63.6" y="1853.6" font-size="28.0" text-anchor="start" fill="#111">10<tspan dy="-17.3" dx="1.2" font-size="17.4">-1</tspan></text>
<text x="63.6" y="1621" font-size="28.0" text-anchor="start" fill="#111">10<tspan dy="-17.3" dx="1.2" font-size="17.4">0</tspan></text>
<text x="117" y="2347.7" font-size="28.0" text-anchor="middle" fill="#111">10<tspan dy="-17.3" dx="1.2" font-size="17.4">0</tspan></text>
<text x="561.5" y="2347.7" font-size="28.0" text-anchor="middle" fill="#111">10<tspan dy="-17.3" dx="1.2" font-size="17.4">1</tspan></text>
<text x="1006" y="2347.7" font-size="28.0" text-anchor="middle" fill="#111">10<tspan dy="-17.3" dx="1.2" font-size="17.4">2</tspan></text>
<text x="563.5" y="2378.6" font-size="28.0" text-anchor="middle" fill="#111">Degree</text>
<text transform="translate(49 1957) rotate(-90)" font-size="28.0" text-anchor="middle" fill="#111">Clustering coefficient</text>
<text x="8" y="1604.6" font-size="36.6" fill="#1a1a1a">D</text>
</g>
<g id="panelE">
<rect x="1181.5" y="1603" width="888.5" height="700.8" fill="none" stroke="#000" stroke-width="2.2"/>
<path d="M1315.2 2303.8v-4.8M1315.2 1603v4.8M1393.5 2303.8v-4.8M1393.5 1603v4.8M1449 2303.8v-4.8M1449 1603v4.8M1492 2303.8v-4.8M1492 1603v4.8M1527.2 2303.8v-4.8M1527.2 1603v4.8M1556.9 2303.8v-4.8M1556.9 1603v4.8M1582.7 2303.8v-4.8M1582.7 1603v4.8M1605.4 2303.8v-4.8M1605.4 1603v4.8M1625.8 2303.8v-9.1M1625.8 1603v9.1M1759.5 2303.8v-4.8M1759.5 1603v4.8M1837.7 2303.8v-4.8M1837.7 1603v4.8M1893.2 2303.8v-4.8M1893.2 1603v4.8M1936.3 2303.8v-4.8M1936.3 1603v4.8M1971.4 2303.8v-4.8M1971.4 1603v4.8M2001.2 2303.8v-4.8M2001.2 1603v4.8M2026.9 2303.8v-4.8M2026.9 1603v4.8M2049.7 2303.8v-4.8M2049.7 1603v4.8" stroke="#000" stroke-width="2" fill="none"/>
<path d="M1181.5 2233.5h4.8M2070 2233.5h-4.8M1181.5 2192.3h4.8M2070 2192.3h-4.8M1181.5 2163.2h4.8M2070 2163.2h-4.8M1181.5 2140.5h4.8M2070 2140.5h-4.8M1181.5 2122h4.8M2070 2122h-4.8M1181.5 2106.4h4.8M2070 2106.4h-4.8M1181.5 2092.8h4.8M2070 2092.8h-4.8M1181.5 2080.9h4.8M2070 2080.9h-4.8M1181.5 2070.2h9.1M2070 2070.2h-9.1M1181.5 1999.9h4.8M2070 1999.9h-4.8M1181.5 1958.7h4.8M2070 1958.7h-4.8M1181.5 1929.6h4.8M2070 1929.6h-4.8M1181.5 1906.9h4.8M2070 1906.9h-4.8M1181.5 1888.4h4.8M2070 1888.4h-4.8M1181.5 1872.8h4.8M2070 1872.8h-4.8M1181.5 1859.2h4.8M2070 1859.2h-4.8M1181.5 1847.3h4.8M2070 1847.3h-4.8M1181.5 1836.6h9.1M2070 1836.6h-9.1M1181.5 1766.3h4.8M2070 1766.3h-4.8M1181.5 1725.1h4.8M2070 1725.1h-4.8M1181.5 1696h4.8M2070 1696h-4.8M1181.5 1673.3h4.8M2070 1673.3h-4.8M1181.5 1654.8h4.8M2070 1654.8h-4.8M1181.5 1639.2h4.8M2070 1639.2h-4.8M1181.5 1625.6h4.8M2070 1625.6h-4.8M1181.5 1613.7h4.8M2070 1613.7h-4.8" stroke="#000" stroke-width="2" fill="none"/>
<g fill="#69c1c3">
<circle cx="1315.2" cy="1836.6" r="2.05"/><circle cx="1393.5" cy="1877.7" r="2.05"/><circle cx="1393.5" cy="1807.4" r="2.05"/><circle cx="1393.5" cy="1766.3" r="2.05"/><circle cx="1449" cy="1836.6" r="2.05"/><circle cx="1449" cy="1795.5" r="2.05"/><circle cx="1449" cy="1766.3" r="2.05"/><circle cx="1449" cy="1743.6" r="2.05"/><circle cx="1492" cy="1929.6" r="2.05"/><circle cx="1492" cy="1859.2" r="2.05"/><circle cx="1492" cy="1818.1" r="2.05"/><circle cx="1492" cy="1788.9" r="2.05"/><circle cx="1492" cy="1766.3" r="2.05"/><circle cx="1492" cy="1747.8" r="2.05"/><circle cx="1492" cy="1732.1" r="2.05"/><circle cx="1492" cy="1718.6" r="2.05"/><circle cx="1492" cy="1706.6" r="2.05"/><circle cx="1527.2" cy="1948.1" r="2.05"/><circle cx="1527.2" cy="1877.7" r="2.05"/><circle cx="1527.2" cy="1836.6" r="2.05"/><circle cx="1527.2" cy="1807.4" r="2.05"/><circle cx="1527.2" cy="1784.8" r="2.05"/><circle cx="1527.2" cy="1766.3" r="2.05"/><circle cx="1527.2" cy="1750.6" r="2.05"/><circle cx="1527.2" cy="1737.1" r="2.05"/><circle cx="1527.2" cy="1725.1" r="2.05"/><circle cx="1556.9" cy="1963.7" r="2.05"/><circle cx="1556.9" cy="1893.4" r="2.05"/><circle cx="1556.9" cy="1852.2" r="2.05"/><circle cx="1556.9" cy="1823.1" r="2.05"/><circle cx="1556.9" cy="1800.4" r="2.05"/><circle cx="1556.9" cy="1781.9" r="2.05"/><circle cx="1556.9" cy="1766.3" r="2.05"/><circle cx="1556.9" cy="1752.7" r="2.05"/><circle cx="1556.9" cy="1740.8" r="2.05"/><circle cx="1556.9" cy="1730.1" r="2.05"/><circle cx="1556.9" cy="1711.6" r="2.05"/><circle cx="1556.9" cy="1689" r="2.05"/><circle cx="1582.7" cy="1977.2" r="2.05"/><circle cx="1582.7" cy="1906.9" r="2.05"/><circle cx="1582.7" cy="1865.8" r="2.05"/><circle cx="1582.7" cy="1836.6" r="2.05"/><circle cx="1582.7" cy="1814" r="2.05"/><circle cx="1582.7" cy="1795.5" r="2.05"/><circle cx="1582.7" cy="1779.8" r="2.05"/><circle cx="1582.7" cy="1766.3" r="2.05"/><circle cx="1582.7" cy="1754.3" r="2.05"/><circle cx="1582.7" cy="1743.6" r="2.05"/><circle cx="1582.7" cy="1734" r="2.05"/><circle cx="1582.7" cy="1696" r="2.05"/><circle cx="1605.4" cy="1989.2" r="2.05"/><circle cx="1605.4" cy="1918.9" r="2.05"/><circle cx="1605.4" cy="1877.7" r="2.05"/><circle cx="1605.4" cy="1848.5" r="2.05"/><circle cx="1605.4" cy="1825.9" r="2.05"/><circle cx="1605.4" cy="1807.4" r="2.05"/><circle cx="1605.4" cy="1791.8" r="2.05"/><circle cx="1605.4" cy="1766.3" r="2.05"/><circle cx="1605.4" cy="1755.6" r="2.05"/><circle cx="1605.4" cy="1745.9" r="2.05"/><circle cx="1605.4" cy="1737.1" r="2.05"/><circle cx="1605.4" cy="1714.5" r="2.05"/><circle cx="1605.4" cy="1707.9" r="2.05"/><circle cx="1605.4" cy="1696" r="2.05"/><circle cx="1625.8" cy="1999.9" r="2.05"/><circle cx="1625.8" cy="1929.6" r="2.05"/><circle cx="1625.8" cy="1888.4" r="2.05"/><circle cx="1625.8" cy="1859.2" r="2.05"/><circle cx="1625.8" cy="1836.6" r="2.05"/><circle cx="1625.8" cy="1818.1" r="2.05"/><circle cx="1625.8" cy="1802.5" r="2.05"/><circle cx="1625.8" cy="1788.9" r="2.05"/><circle cx="1625.8" cy="1777" r="2.05"/><circle cx="1625.8" cy="1766.3" r="2.05"/><circle cx="1625.8" cy="1756.6" r="2.05"/><circle cx="1625.8" cy="1747.8" r="2.05"/><circle cx="1625.8" cy="1739.7" r="2.05"/><circle cx="1625.8" cy="1725.1" r="2.05"/><circle cx="1625.8" cy="1718.6" r="2.05"/><circle cx="1625.8" cy="1706.6" r="2.05"/><circle cx="1625.8" cy="1701.2" r="2.05"/><circle cx="1644.1" cy="2009.5" r="2.05"/><circle cx="1644.1" cy="1898.1" r="2.05"/><circle cx="1644.1" cy="1868.9" r="2.05"/><circle cx="1644.1" cy="1846.3" r="2.05"/><circle cx="1644.1" cy="1827.8" r="2.05"/><circle cx="1644.1" cy="1812.1" r="2.05"/><circle cx="1644.1" cy="1798.6" r="2.05"/><circle cx="1644.1" cy="1786.6" r="2.05"/><circle cx="1644.1" cy="1775.9" r="2.05"/><circle cx="1644.1" cy="1766.3" r="2.05"/><circle cx="1644.1" cy="1757.5" r="2.05"/><circle cx="1644.1" cy="1749.3" r="2.05"/><circle cx="1644.1" cy="1741.8" r="2.05"/><circle cx="1644.1" cy="1722.1" r="2.05"/><circle cx="1644.1" cy="1696" r="2.05"/><circle cx="1660.9" cy="2018.4" r="2.05"/><circle cx="1660.9" cy="1948.1" r="2.05"/><circle cx="1660.9" cy="1906.9" r="2.05"/><circle cx="1660.9" cy="1877.7" r="2.05"/><circle cx="1660.9" cy="1855.1" r="2.05"/><circle cx="1660.9" cy="1836.6" r="2.05"/><circle cx="1660.9" cy="1795.5" r="2.05"/><circle cx="1660.9" cy="1766.3" r="2.05"/><circle cx="1660.9" cy="1750.6" r="2.05"/><circle cx="1660.9" cy="1743.6" r="2.05"/><circle cx="1660.9" cy="1737.1" r="2.05"/><circle cx="1660.9" cy="1730.9" r="2.05"/><circle cx="1660.9" cy="1725.1" r="2.05"/><circle cx="1660.9" cy="1709.5" r="2.05"/><circle cx="1660.9" cy="1687.8" r="2.05"/><circle cx="1676.4" cy="2026.5" r="2.05"/><circle cx="1676.4" cy="1956.2" r="2.05"/><circle cx="1676.4" cy="1915" r="2.05"/><circle cx="1676.4" cy="1803.6" r="2.05"/><circle cx="1676.4" cy="1792.9" r="2.05"/><circle cx="1676.4" cy="1783.2" r="2.05"/><circle cx="1676.4" cy="1774.4" r="2.05"/><circle cx="1676.4" cy="1751.8" r="2.05"/><circle cx="1676.4" cy="1745.2" r="2.05"/><circle cx="1676.4" cy="1733.3" r="2.05"/><circle cx="1676.4" cy="1727.8" r="2.05"/><circle cx="1676.4" cy="1722.6" r="2.05"/><circle cx="1676.4" cy="1717.6" r="2.05"/><circle cx="1676.4" cy="1660.2" r="2.05"/><circle cx="1690.7" cy="2034" r="2.05"/><circle cx="1690.7" cy="1963.7" r="2.05"/><circle cx="1690.7" cy="1922.6" r="2.05"/><circle cx="1690.7" cy="1893.4" r="2.05"/><circle cx="1690.7" cy="1870.7" r="2.05"/><circle cx="1690.7" cy="1836.6" r="2.05"/><circle cx="1690.7" cy="1823.1" r="2.05"/><circle cx="1690.7" cy="1811.1" r="2.05"/><circle cx="1690.7" cy="1781.9" r="2.05"/><circle cx="1690.7" cy="1773.8" r="2.05"/><circle cx="1690.7" cy="1746.6" r="2.05"/><circle cx="1690.7" cy="1735.3" r="2.05"/><circle cx="1690.7" cy="1720.4" r="2.05"/><circle cx="1690.7" cy="1682.4" r="2.05"/><circle cx="1704" cy="1970.7" r="2.05"/><circle cx="1704" cy="1929.6" r="2.05"/><circle cx="1704" cy="1900.4" r="2.05"/><circle cx="1704" cy="1877.7" r="2.05"/><circle cx="1704" cy="1859.2" r="2.05"/><circle cx="1704" cy="1843.6" r="2.05"/><circle cx="1704" cy="1818.1" r="2.05"/><circle cx="1704" cy="1807.4" r="2.05"/><circle cx="1704" cy="1797.7" r="2.05"/><circle cx="1704" cy="1766.3" r="2.05"/><circle cx="1704" cy="1753.6" r="2.05"/><circle cx="1704" cy="1706.6" r="2.05"/><circle cx="1704" cy="1696" r="2.05"/><circle cx="1704" cy="1672" r="2.05"/><circle cx="1716.4" cy="1977.2" r="2.05"/><circle cx="1716.4" cy="1836.6" r="2.05"/><circle cx="1716.4" cy="1804.3" r="2.05"/><circle cx="1716.4" cy="1772.8" r="2.05"/><circle cx="1716.4" cy="1760.1" r="2.05"/><circle cx="1716.4" cy="1754.3" r="2.05"/><circle cx="1716.4" cy="1748.8" r="2.05"/><circle cx="1716.4" cy="1721" r="2.05"/><circle cx="1716.4" cy="1713.2" r="2.05"/><circle cx="1716.4" cy="1709.5" r="2.05"/><circle cx="1716.4" cy="1705.9" r="2.05"/><circle cx="1716.4" cy="1702.5" r="2.05"/><circle cx="1716.4" cy="1678.5" r="2.05"/><circle cx="1716.4" cy="1648.7" r="2.05"/><circle cx="1728.1" cy="1856.3" r="2.05"/><circle cx="1728.1" cy="1842.8" r="2.05"/><circle cx="1728.1" cy="1810.4" r="2.05"/><circle cx="1728.1" cy="1772.4" r="2.05"/><circle cx="1728.1" cy="1766.3" r="2.05"/><circle cx="1728.1" cy="1755" r="2.05"/><circle cx="1728.1" cy="1749.8" r="2.05"/><circle cx="1728.1" cy="1715.7" r="2.05"/><circle cx="1728.1" cy="1708.7" r="2.05"/><circle cx="1728.1" cy="1684.7" r="2.05"/><circle cx="1728.1" cy="1674.5" r="2.05"/><circle cx="1728.1" cy="1669.8" r="2.05"/><circle cx="1739.2" cy="1862.1" r="2.05"/><circle cx="1739.2" cy="1825.9" r="2.05"/><circle cx="1739.2" cy="1799.3" r="2.05"/><circle cx="1739.2" cy="1772.1" r="2.05"/><circle cx="1739.2" cy="1745.9" r="2.05"/><circle cx="1739.2" cy="1737.1" r="2.05"/><circle cx="1739.2" cy="1717.9" r="2.05"/><circle cx="1739.2" cy="1698.8" r="2.05"/><circle cx="1739.2" cy="1693.2" r="2.05"/><circle cx="1739.2" cy="1668.9" r="2.05"/><circle cx="1739.2" cy="1654.8" r="2.05"/><circle cx="1749.6" cy="1924.4" r="2.05"/><circle cx="1749.6" cy="1883.2" r="2.05"/><circle cx="1749.6" cy="1804.8" r="2.05"/><circle cx="1749.6" cy="1797.3" r="2.05"/><circle cx="1749.6" cy="1790.3" r="2.05"/><circle cx="1749.6" cy="1777.6" r="2.05"/><circle cx="1749.6" cy="1761.1" r="2.05"/><circle cx="1749.6" cy="1738.4" r="2.05"/><circle cx="1749.6" cy="1734.5" r="2.05"/><circle cx="1749.6" cy="1723.4" r="2.05"/><circle cx="1749.6" cy="1713.4" r="2.05"/><circle cx="1749.6" cy="1698.7" r="2.05"/><circle cx="1749.6" cy="1678.8" r="2.05"/><circle cx="1759.5" cy="2070.2" r="2.05"/><circle cx="1759.5" cy="1929.6" r="2.05"/><circle cx="1759.5" cy="1847.3" r="2.05"/><circle cx="1759.5" cy="1836.6" r="2.05"/><circle cx="1759.5" cy="1795.5" r="2.05"/><circle cx="1759.5" cy="1761.3" r="2.05"/><circle cx="1759.5" cy="1721.8" r="2.05"/><circle cx="1759.5" cy="1715.5" r="2.05"/><circle cx="1759.5" cy="1709.5" r="2.05"/><circle cx="1768.9" cy="1864.2" r="2.05"/><circle cx="1768.9" cy="1807.4" r="2.05"/><circle cx="1768.9" cy="1776.4" r="2.05"/><circle cx="1768.9" cy="1740.8" r="2.05"/><circle cx="1768.9" cy="1698.4" r="2.05"/><circle cx="1768.9" cy="1691.2" r="2.05"/><circle cx="1768.9" cy="1689" r="2.05"/><circle cx="1768.9" cy="1684.5" r="2.05"/><circle cx="1777.9" cy="1898.1" r="2.05"/><circle cx="1777.9" cy="1882.5" r="2.05"/><circle cx="1777.9" cy="1819.7" r="2.05"/><circle cx="1777.9" cy="1805.1" r="2.05"/><circle cx="1777.9" cy="1786.6" r="2.05"/><circle cx="1777.9" cy="1781.2" r="2.05"/><circle cx="1777.9" cy="1654.8" r="2.05"/><circle cx="1786.4" cy="1972.9" r="2.05"/><circle cx="1786.4" cy="1902.6" r="2.05"/><circle cx="1786.4" cy="1770.8" r="2.05"/><circle cx="1786.4" cy="1707.6" r="2.05"/><circle cx="1786.4" cy="1700.5" r="2.05"/><circle cx="1786.4" cy="1687.5" r="2.05"/><circle cx="1786.4" cy="1681.6" r="2.05"/><circle cx="1794.7" cy="1814" r="2.05"/><circle cx="1794.7" cy="1801.3" r="2.05"/><circle cx="1794.7" cy="1730.9" r="2.05"/><circle cx="1794.7" cy="1728" r="2.05"/><circle cx="1794.7" cy="1702.5" r="2.05"/><circle cx="1802.5" cy="1849.6" r="2.05"/><circle cx="1802.5" cy="1840.7" r="2.05"/><circle cx="1802.5" cy="1766.3" r="2.05"/><circle cx="1802.5" cy="1741.2" r="2.05"/><circle cx="1802.5" cy="1677.5" r="2.05"/><circle cx="1810.1" cy="1873.9" r="2.05"/><circle cx="1810.1" cy="1815.5" r="2.05"/><circle cx="1810.1" cy="1751.8" r="2.05"/><circle cx="1810.1" cy="1748.4" r="2.05"/><circle cx="1810.1" cy="1736.1" r="2.05"/><circle cx="1817.4" cy="1877.7" r="2.05"/><circle cx="1817.4" cy="1687" r="2.05"/><circle cx="1817.4" cy="1672.6" r="2.05"/><circle cx="1824.4" cy="1740.8" r="2.05"/><circle cx="1824.4" cy="1689" r="2.05"/><circle cx="1824.4" cy="1662.3" r="2.05"/><circle cx="1824.4" cy="1632.2" r="2.05"/><circle cx="1831.2" cy="1777.4" r="2.05"/><circle cx="1831.2" cy="1750.1" r="2.05"/><circle cx="1831.2" cy="1741.6" r="2.05"/><circle cx="1831.2" cy="1686" r="2.05"/><circle cx="1831.2" cy="1632.9" r="2.05"/><circle cx="1837.7" cy="1742.3" r="2.05"/><circle cx="1837.7" cy="1722.9" r="2.05"/><circle cx="1844" cy="1839.9" r="2.05"/><circle cx="1844" cy="1810.7" r="2.05"/><circle cx="1856.1" cy="1704" r="2.05"/><circle cx="1856.1" cy="1660.1" r="2.05"/><circle cx="1856.1" cy="1649.8" r="2.05"/><circle cx="1861.9" cy="1735.6" r="2.05"/><circle cx="1861.9" cy="1622.7" r="2.05"/><circle cx="1867.5" cy="1708.3" r="2.05"/><circle cx="1867.5" cy="1669.3" r="2.05"/><circle cx="1883.3" cy="1769" r="2.05"/><circle cx="1883.3" cy="1668.1" r="2.05"/><circle cx="1907.2" cy="1749" r="2.05"/><circle cx="1907.2" cy="1692.5" r="2.05"/><circle cx="1907.2" cy="1680.7" r="2.05"/><circle cx="1911.6" cy="1722.1" r="2.05"/><circle cx="1911.6" cy="1642.5" r="2.05"/><circle cx="1924.3" cy="1834.5" r="2.05"/><circle cx="1924.3" cy="1652" r="2.05"/><circle cx="1943.8" cy="1840.6" r="2.05"/><circle cx="1943.8" cy="1709.5" r="2.05"/><circle cx="1943.8" cy="1675.7" r="2.05"/><circle cx="1943.8" cy="1648.5" r="2.05"/><circle cx="1961.5" cy="1627.4" r="2.05"/><circle cx="1992.7" cy="1673.6" r="2.05"/><circle cx="1992.7" cy="1657.9" r="2.05"/><circle cx="1992.7" cy="1613.2" r="2.05"/><circle cx="1998.4" cy="1663.5" r="2.05"/><circle cx="1998.4" cy="1629.4" r="2.05"/><circle cx="2024.5" cy="1789.2" r="2.05"/><circle cx="2024.5" cy="1663.8" r="2.05"/><circle cx="2024.5" cy="1624" r="2.05"/><circle cx="2058.1" cy="1693.8" r="2.05"/><circle cx="2058.1" cy="1657.4" r="2.05"/>
</g>
<g fill="#6abf45" stroke="#000" stroke-width="2.0">
<circle cx="1315.2" cy="1981.3" r="5.85"/><circle cx="1393.5" cy="1934.6" r="5.85"/><circle cx="1449" cy="1901.7" r="5.85"/><circle cx="1492" cy="1865.4" r="5.85"/><circle cx="1527.2" cy="1847.8" r="5.85"/><circle cx="1556.9" cy="1832.5" r="5.85"/><circle cx="1582.7" cy="1838" r="5.85"/><circle cx="1605.4" cy="1811.3" r="5.85"/><circle cx="1625.8" cy="1791.5" r="5.85"/><circle cx="1644.1" cy="1807.6" r="5.85"/><circle cx="1660.9" cy="1789.5" r="5.85"/><circle cx="1676.4" cy="1767.2" r="5.85"/><circle cx="1690.7" cy="1795.4" r="5.85"/><circle cx="1704" cy="1788.7" r="5.85"/><circle cx="1716.4" cy="1732" r="5.85"/><circle cx="1728.1" cy="1740.1" r="5.85"/><circle cx="1739.2" cy="1725.6" r="5.85"/><circle cx="1749.6" cy="1751" r="5.85"/><circle cx="1759.5" cy="1783.9" r="5.85"/><circle cx="1768.9" cy="1726.4" r="5.85"/><circle cx="1777.9" cy="1773.3" r="5.85"/><circle cx="1786.4" cy="1735.1" r="5.85"/><circle cx="1794.7" cy="1742.6" r="5.85"/><circle cx="1802.5" cy="1756.3" r="5.85"/><circle cx="1810.1" cy="1773.9" r="5.85"/><circle cx="1817.4" cy="1742.9" r="5.85"/><circle cx="1824.4" cy="1681.5" r="5.85"/><circle cx="1831.2" cy="1700.5" r="5.85"/><circle cx="1837.7" cy="1732.3" r="5.85"/><circle cx="1844" cy="1824.1" r="5.85"/><circle cx="1850.2" cy="1795.6" r="5.85"/><circle cx="1856.1" cy="1669" r="5.85"/><circle cx="1861.9" cy="1664.5" r="5.85"/><circle cx="1867.5" cy="1687.1" r="5.85"/><circle cx="1878.2" cy="1650.8" r="5.85"/><circle cx="1883.3" cy="1703.8" r="5.85"/><circle cx="1888.3" cy="1655.8" r="5.85"/><circle cx="1893.2" cy="1752.1" r="5.85"/><circle cx="1907.2" cy="1702.2" r="5.85"/><circle cx="1911.6" cy="1672" r="5.85"/><circle cx="1924.3" cy="1706.6" r="5.85"/><circle cx="1928.4" cy="1750.7" r="5.85"/><circle cx="1936.3" cy="1662.5" r="5.85"/><circle cx="1943.8" cy="1697.4" r="5.85"/><circle cx="1947.5" cy="1682.9" r="5.85"/><circle cx="1954.7" cy="1730.9" r="5.85"/><circle cx="1958.1" cy="1652.2" r="5.85"/><circle cx="1961.5" cy="1639.7" r="5.85"/><circle cx="1971.4" cy="1719.7" r="5.85"/><circle cx="1983.9" cy="1656.1" r="5.85"/><circle cx="1992.7" cy="1645" r="5.85"/><circle cx="1998.4" cy="1645" r="5.85"/><circle cx="2003.9" cy="1691" r="5.85"/><circle cx="2009.3" cy="1648" r="5.85"/><circle cx="2024.5" cy="1672.3" r="5.85"/><circle cx="2058.1" cy="1673.7" r="5.85"/>
</g>
<line x1="1181.3" y1="1937" x2="2070" y2="1642.6" stroke="#ee2e2b" stroke-width="8.4"/>
<text x="1128.1" y="2313.8" font-size="28.0" text-anchor="start" fill="#111">10<tspan dy="-17.3" dx="1.2" font-size="17.4">-2</tspan></text>
<text x="1128.1" y="2080.2" font-size="28.0" text-anchor="start" fill="#111">10<tspan dy="-17.3" dx="1.2" font-size="17.4">-1</tspan></text>
<text x="1128.1" y="1846.6" font-size="28.0" text-anchor="start" fill="#111">10<tspan dy="-17.3" dx="1.2" font-size="17.4">0</tspan></text>
<text x="1128.1" y="1613" font-size="28.0" text-anchor="start" fill="#111">10<tspan dy="-17.3" dx="1.2" font-size="17.4">1</tspan></text>
<text x="1181.5" y="2342.8" font-size="28.0" text-anchor="middle" fill="#111">10<tspan dy="-17.3" dx="1.2" font-size="17.4">0</tspan></text>
<text x="1625.8" y="2342.8" font-size="28.0" text-anchor="middle" fill="#111">10<tspan dy="-17.3" dx="1.2" font-size="17.4">1</tspan></text>
<text x="2070" y="2342.8" font-size="28.0" text-anchor="middle" fill="#111">10<tspan dy="-17.3" dx="1.2" font-size="17.4">2</tspan></text>
<text x="1627" y="2374" font-size="28.0" text-anchor="middle" fill="#111">Degree</text>
<text transform="translate(1112 1948) rotate(-90)" font-size="28.0" text-anchor="middle" fill="#111">Topological coefficient</text>
<text x="1085" y="1604" font-size="36.6" fill="#1a1a1a">E</text>
</g>
</svg></body></html>
